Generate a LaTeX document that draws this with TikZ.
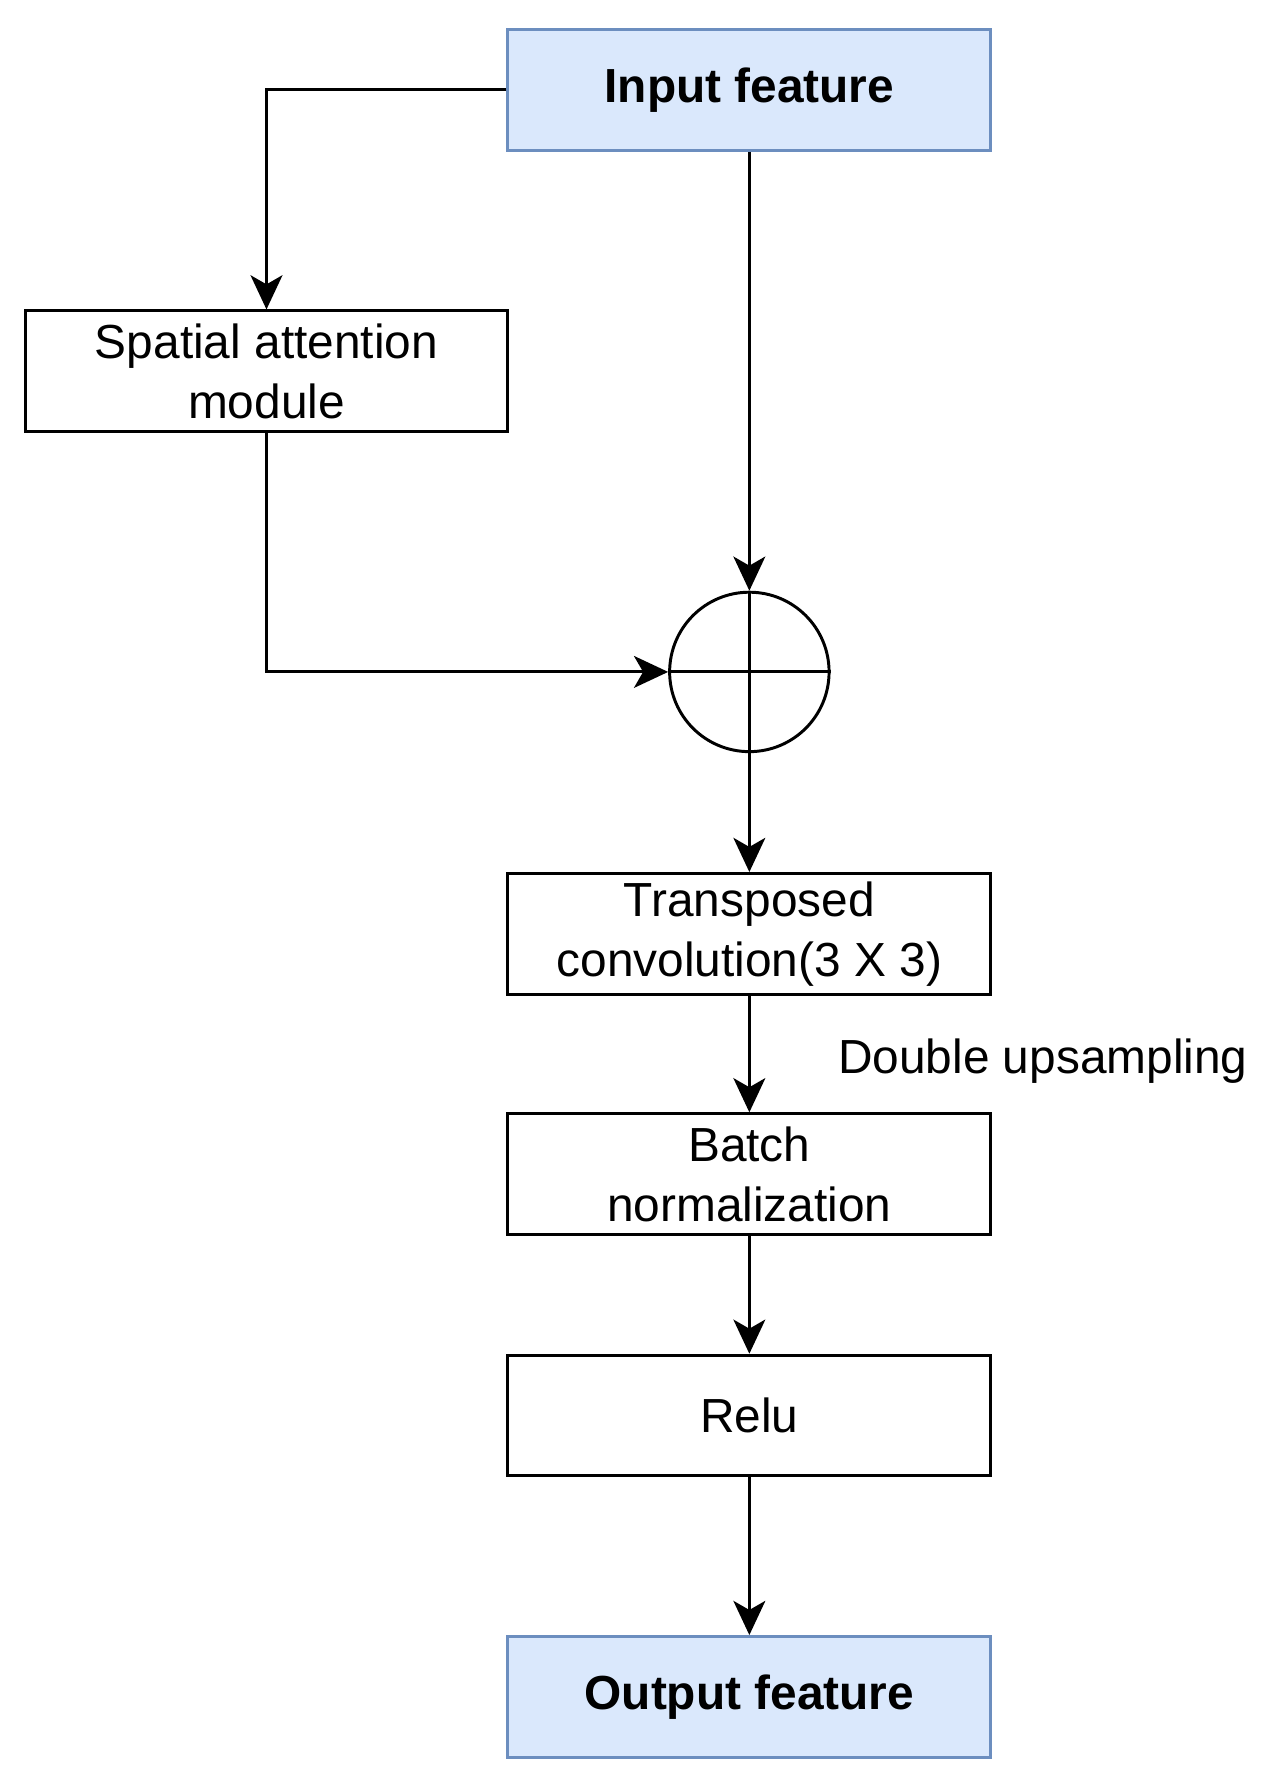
\documentclass[tikz,border=0pt]{standalone}
\usepackage{fontspec}
\setmainfont{Liberation Sans}
\usetikzlibrary{arrows.meta}
\definecolor{iofill}{HTML}{DAE8FC}
\definecolor{ioline}{HTML}{6C8EBF}
\tikzset{>={Stealth[length=15pt,width=14pt,inset=4pt]}}
\tikzset{
  txt/.style={font=\fontsize{21}{26.5}\selectfont},
  box/.style={draw, line width=1.3pt, minimum width=212pt, minimum height=53pt,
    align=center, txt, inner sep=0pt},
  io/.style={box, fill=iofill, draw=ioline, font=\fontsize{21}{26}\selectfont\bfseries},
  link/.style={->, line width=1.3pt}
}

\begin{document}
\begin{tikzpicture}[x=0.5pt, y=-0.5pt]
    \useasboundingbox (0,0) rectangle (1110,1563);

    \node [io] (in) at (658,79) {Input feature};
    \node [box] (sam) at (234,326) {Spatial attention\\module};
    \node [draw, circle, line width=1.3pt, minimum size=70pt, inner sep=0pt] (add) at (658,590) {};
    \node [box] (tconv) at (658,820) {Transposed\\convolution(3 X 3)};
    \node [box] (bn) at (658,1031) {Batch\\normalization};
    \node [box] (relu) at (658,1243) {Relu};
    \node [io] (out) at (658,1490) {Output feature};

    \draw [line width=1.3pt] (add.west) -- (add.east);
    \draw [line width=1.3pt] (add.north) -- (add.south);

    \draw [link] (in.west) -| (sam.north);
    \draw [link] (sam.south) |- (add.west);
    \draw [link] (in.south) -- (add.north);
    \draw [link] (add.south) -- (tconv.north);
    \draw [link] (tconv.south) -- node [right, xshift=35pt, yshift=-3pt, txt] (up) {Double upsampling} (bn.north);
    \draw [link] (bn.south) -- (relu.north);
    \draw [link] (relu.south) -- (out.north);
\end{tikzpicture}
\end{document}
